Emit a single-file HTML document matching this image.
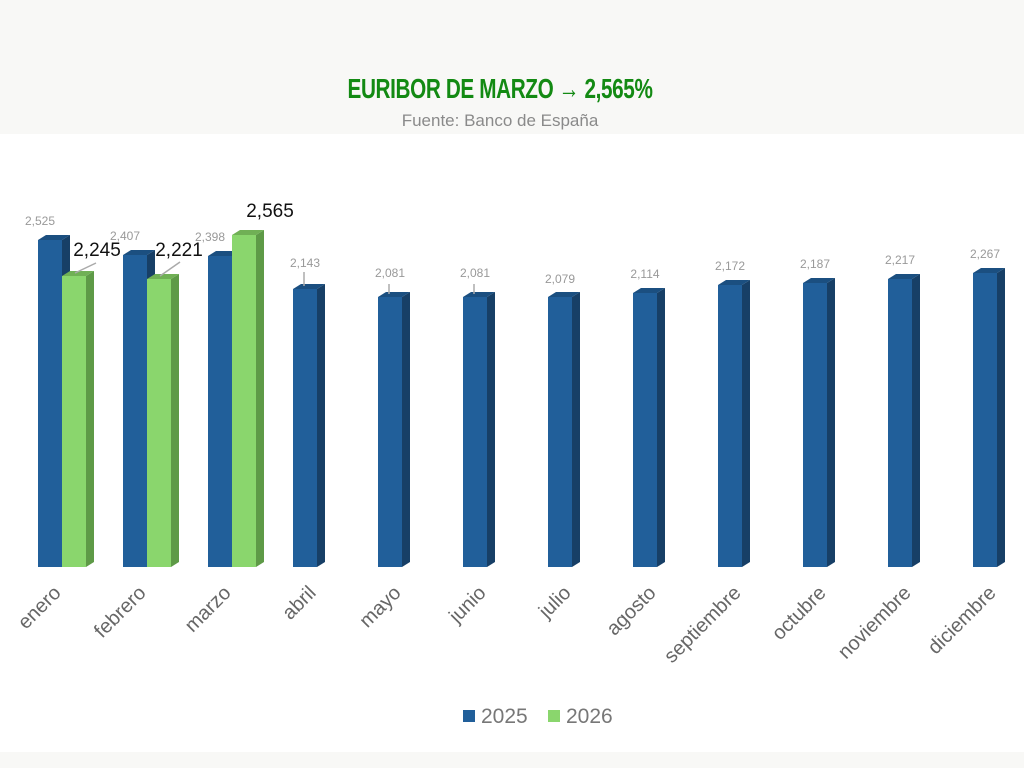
<!DOCTYPE html>
<html><head><meta charset="utf-8"><style>
html,body{margin:0;padding:0;width:1024px;height:768px;overflow:hidden;background:#fff;font-family:"Liberation Sans",sans-serif}
</style></head><body>
<svg width="1024" height="768" viewBox="0 0 1024 768" xmlns="http://www.w3.org/2000/svg" font-family="Liberation Sans, sans-serif">
<rect x="0" y="0" width="1024" height="134" fill="#f8f8f6"/>
<rect x="0" y="752" width="1024" height="16" fill="#f8f8f6"/>
<text x="500" y="98" text-anchor="middle" font-size="28" font-weight="bold" fill="#138a13" transform="translate(500 0) scale(0.74 1) translate(-500 0)" style="letter-spacing:-0.5px">EURIBOR DE MARZO → 2,565%</text>
<text x="500" y="126" text-anchor="middle" font-size="17" fill="#8a8a8a">Fuente: Banco de España</text>
<g id="bars">
<g fill="#215f9a">
<rect x="38" y="240" width="24" height="327"/><rect x="123" y="255" width="24" height="312"/><rect x="208" y="256" width="24" height="311"/><rect x="293" y="289" width="24" height="278"/><rect x="378" y="297" width="24" height="270"/><rect x="463" y="297" width="24" height="270"/><rect x="548" y="297" width="24" height="270"/><rect x="633" y="293" width="24" height="274"/><rect x="718" y="285" width="24" height="282"/><rect x="803" y="283" width="24" height="284"/><rect x="888" y="279" width="24" height="288"/><rect x="973" y="273" width="24" height="294"/>
</g>
<g fill="#173f66">
<polygon points="62,240 70,235 70,562 62,567"/><polygon points="147,255 155,250 155,562 147,567"/><polygon points="232,256 240,251 240,562 232,567"/><polygon points="317,289 325,284 325,562 317,567"/><polygon points="402,297 410,292 410,562 402,567"/><polygon points="487,297 495,292 495,562 487,567"/><polygon points="572,297 580,292 580,562 572,567"/><polygon points="657,293 665,288 665,562 657,567"/><polygon points="742,285 750,280 750,562 742,567"/><polygon points="827,283 835,278 835,562 827,567"/><polygon points="912,279 920,274 920,562 912,567"/><polygon points="997,273 1005,268 1005,562 997,567"/>
</g>
<g fill="#1b4f80">
<polygon points="38,240 46,235 70,235 62,240"/><polygon points="123,255 131,250 155,250 147,255"/><polygon points="208,256 216,251 240,251 232,256"/><polygon points="293,289 301,284 325,284 317,289"/><polygon points="378,297 386,292 410,292 402,297"/><polygon points="463,297 471,292 495,292 487,297"/><polygon points="548,297 556,292 580,292 572,297"/><polygon points="633,293 641,288 665,288 657,293"/><polygon points="718,285 726,280 750,280 742,285"/><polygon points="803,283 811,278 835,278 827,283"/><polygon points="888,279 896,274 920,274 912,279"/><polygon points="973,273 981,268 1005,268 997,273"/>
</g>
<g fill="#8ad66d">
<rect x="62" y="276" width="24" height="291"/><rect x="147" y="279" width="24" height="288"/><rect x="232" y="235" width="24" height="332"/>
</g>
<g fill="#5e9a47">
<polygon points="86,276 94,271 94,562 86,567"/><polygon points="171,279 179,274 179,562 171,567"/><polygon points="256,235 264,230 264,562 256,567"/>
</g>
<g fill="#70b055">
<polygon points="62,276 70,271 94,271 86,276"/><polygon points="147,279 155,274 179,274 171,279"/><polygon points="232,235 240,230 264,230 256,235"/>
</g>
</g>
<g stroke="#aaa" stroke-width="1.5">
<line x1="75" y1="273" x2="96" y2="263"/><line x1="160" y1="276" x2="180" y2="262"/>
<line x1="304" y1="272" x2="304" y2="286"/><line x1="389" y1="284" x2="389" y2="294"/><line x1="474" y1="284" x2="474" y2="294"/>
</g>
<g font-size="12" fill="#999" text-anchor="middle">
<text x="40" y="225">2,525</text><text x="125" y="240">2,407</text><text x="210" y="241">2,398</text><text x="305" y="267">2,143</text><text x="390" y="277">2,081</text><text x="475" y="277">2,081</text><text x="560" y="283">2,079</text><text x="645" y="278">2,114</text><text x="730" y="270">2,172</text><text x="815" y="268">2,187</text><text x="900" y="264">2,217</text><text x="985" y="258">2,267</text>
</g>
<g font-size="19" fill="#111" text-anchor="middle">
<text x="97" y="256">2,245</text><text x="179" y="256">2,221</text><text x="270" y="217">2,565</text>
</g>
<g font-size="20" fill="#666" text-anchor="end">
<text transform="translate(62 594) rotate(-45)">enero</text>
<text transform="translate(147 594) rotate(-45)">febrero</text>
<text transform="translate(232 594) rotate(-45)">marzo</text>
<text transform="translate(317 594) rotate(-45)">abril</text>
<text transform="translate(402 594) rotate(-45)">mayo</text>
<text transform="translate(487 594) rotate(-45)">junio</text>
<text transform="translate(572 594) rotate(-45)">julio</text>
<text transform="translate(657 594) rotate(-45)">agosto</text>
<text transform="translate(742 594) rotate(-45)">septiembre</text>
<text transform="translate(827 594) rotate(-45)">octubre</text>
<text transform="translate(912 594) rotate(-45)">noviembre</text>
<text transform="translate(997 594) rotate(-45)">diciembre</text>
</g>
<rect x="463" y="710" width="12" height="12" fill="#215f9a"/>
<text x="481" y="723" font-size="21" fill="#777">2025</text>
<rect x="548" y="710" width="12" height="12" fill="#8ad66d"/>
<text x="566" y="723" font-size="21" fill="#777">2026</text>
</svg>
</body></html>
